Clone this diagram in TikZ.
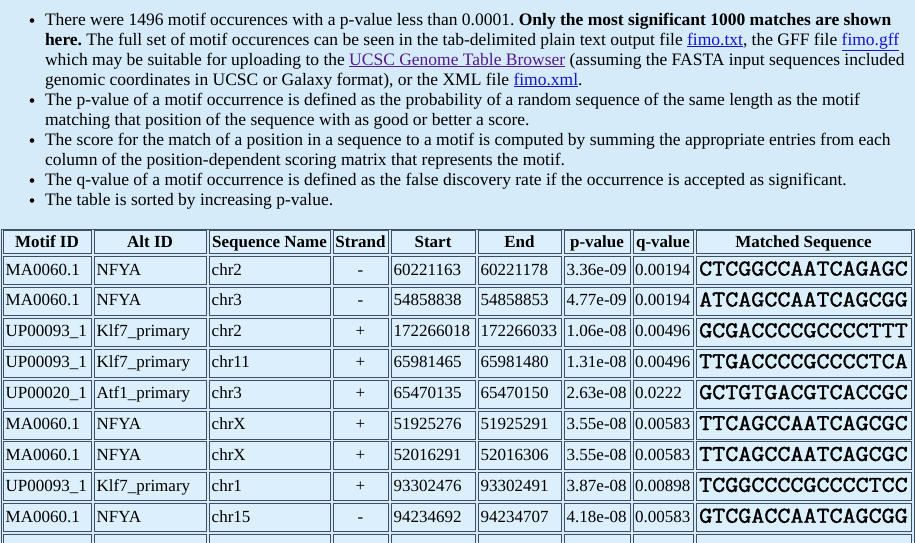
\documentclass[tikz,border=0pt]{standalone}
\usepackage{fontspec}
\setmainfont{Liberation Serif}
\newfontfamily\seqfont[FakeStretch=1.12,FakeBold=1.6]{Latin Modern Mono}
\definecolor{pagebg}{RGB}{213,235,249}
\definecolor{cellbg}{RGB}{220,239,252}
\definecolor{cellline}{RGB}{62,80,98}
\definecolor{linkblue}{RGB}{20,20,200}
\definecolor{linkvisited}{RGB}{85,26,139}
\newcommand\lnk[2]{\textcolor{#1}{\underline{#2}}}
\tikzset{
  txt/.style={anchor=base west,inner sep=0pt,outer sep=0pt,font=\fontsize{17.5}{20}\selectfont\frenchspacing,text=black},
  bul/.style={circle,fill=black,inner sep=0pt,minimum size=4.6pt},
  cell/.style={draw=cellline,fill=cellbg,line width=1pt,anchor=north west,inner sep=0pt,rectangle},
  htxt/.style={anchor=base,inner sep=0pt,font=\fontsize{17}{20}\selectfont\bfseries},
  dtxt/.style={anchor=base west,inner sep=0pt,font=\fontsize{17}{20}\selectfont},
  ctxt/.style={anchor=base,inner sep=0pt,font=\fontsize{17}{20}\selectfont},
  stxt/.style={anchor=base west,inner sep=0pt,font=\seqfont\fontsize{22.6}{24}\selectfont},
  tframe/.style={draw=cellline,line width=1pt,anchor=north west,inner sep=0pt,rectangle}
}
\newcommand\cellrow[3]{% #1 name prefix, #2 top, #3 height
  \foreach \c/\l/\r in {1/3/91,2/94/206,3/209/330,4/333/388,5/391/475,6/478/561,7/564/630,8/633/693,9/696/911}{%
    \pgfmathsetmacro\w{\r-\l}%
    \node[cell,minimum width=\w pt,minimum height=#3pt] (#1-\c) at (\l,#2) {};}%
}
\newcommand\drow[9]{% #1 row index
  \pgfmathsetmacro\rt{256+30.9*(#1-1)}%
  \pgfmathsetmacro\rb{\rt+19}%
  \cellrow{cell-#1}{\rt}{28}%
  \node[dtxt] (m-#1) at (5.5,\rb) {#2};%
  \node[dtxt] (a-#1) at (96.5,\rb) {#3};%
  \node[dtxt] (s-#1) at (211.5,\rb) {#4};%
  \node[ctxt] (d-#1) at (360.5,\rb) {#5};%
  \node[dtxt] (b-#1) at (393.5,\rb) {#6};%
  \node[dtxt] (e-#1) at (480.5,\rb) {#7};%
  \node[dtxt] (p-#1) at (566.5,\rb) {#8};%
  \node[dtxt] (q-#1) at (635,\rb) {#9};%
}
\newcommand\seqtext[2]{%
  \pgfmathsetmacro\rb{256+30.9*(#1-1)+19.5}%
  \node[stxt] (x-#1) at (699,\rb) {#2};%
}
\begin{document}
\begin{tikzpicture}[x=1pt,y=-1pt]
\useasboundingbox (0,0) rectangle (915,542);
\fill[pagebg] (0,0) rectangle (915,542);
\clip (0,0) rectangle (915,542);
% bullets and text
\node[bul] (b1) at (32,20.5) {};
\node[txt] (l1) at (45,25) {There were 1496 motif occurences with a p-value less than 0.0001. \textbf{Only the most significant 1000 matches are shown}};
\node[txt] (l2) at (45,45) {\textbf{here.} The full set of motif occurences can be seen in the tab-delimited plain text output file \lnk{linkblue}{fimo.txt}, the GFF file \lnk{linkblue}{fimo.gff}};
\node[txt] (l3) at (45,65) {which may be suitable for uploading to the \lnk{linkvisited}{UCSC Genome Table Browser} (assuming the FASTA input sequences included};
\node[txt] (l4) at (45,85) {genomic coordinates in UCSC or Galaxy format), or the XML file \lnk{linkblue}{fimo.xml}.};
\node[bul] (b2) at (32,100.5) {};
\node[txt] (l5) at (45,105) {The p-value of a motif occurrence is defined as the probability of a random sequence of the same length as the motif};
\node[txt] (l6) at (45,125) {matching that position of the sequence with as good or better a score.};
\node[bul] (b3) at (32,140.5) {};
\node[txt] (l7) at (45,145) {The score for the match of a position in a sequence to a motif is computed by summing the appropriate entries from each};
\node[txt] (l8) at (45,165) {column of the position-dependent scoring matrix that represents the motif.};
\node[bul] (b4) at (32,180.5) {};
\node[txt] (l9) at (45,185) {The q-value of a motif occurrence is defined as the false discovery rate if the occurrence is accepted as significant.};
\node[bul] (b5) at (32,200.5) {};
\node[txt] (l10) at (45,205) {The table is sorted by increasing p-value.};
% table frame
\node[tframe,minimum width=913pt,minimum height=400pt] (tbl) at (0.5,228.5) {};
% header
\cellrow{h}{230}{23}
\node[htxt] (ht1) at (47,247) {Motif ID};
\node[htxt] (ht2) at (150,247) {Alt ID};
\node[htxt] (ht3) at (269.5,247) {Sequence Name};
\node[htxt] (ht4) at (360.5,247) {Strand};
\node[htxt] (ht5) at (433,247) {Start};
\node[htxt] (ht6) at (519.5,247) {End};
\node[htxt] (ht7) at (597,247) {p-value};
\node[htxt] (ht8) at (663,247) {q-value};
\node[htxt] (ht9) at (803.5,247) {Matched Sequence};
% rows
\drow{1}{MA0060.1}{NFYA}{chr2}{-}{60221163}{60221178}{3.36e-09}{0.00194}
\seqtext{1}{CTCGGCCAATCAGAGC}
\drow{2}{MA0060.1}{NFYA}{chr3}{-}{54858838}{54858853}{4.77e-09}{0.00194}
\seqtext{2}{ATCAGCCAATCAGCGG}
\drow{3}{UP00093\_1}{Klf7\_primary}{chr2}{+}{172266018}{172266033}{1.06e-08}{0.00496}
\seqtext{3}{GCGACCCCGCCCCTTT}
\drow{4}{UP00093\_1}{Klf7\_primary}{chr11}{+}{65981465}{65981480}{1.31e-08}{0.00496}
\seqtext{4}{TTGACCCCGCCCCTCA}
\drow{5}{UP00020\_1}{Atf1\_primary}{chr3}{+}{65470135}{65470150}{2.63e-08}{0.0222}
\seqtext{5}{GCTGTGACGTCACCGC}
\drow{6}{MA0060.1}{NFYA}{chrX}{+}{51925276}{51925291}{3.55e-08}{0.00583}
\seqtext{6}{TTCAGCCAATCAGCGC}
\drow{7}{MA0060.1}{NFYA}{chrX}{+}{52016291}{52016306}{3.55e-08}{0.00583}
\seqtext{7}{TTCAGCCAATCAGCGC}
\drow{8}{UP00093\_1}{Klf7\_primary}{chr1}{+}{93302476}{93302491}{3.87e-08}{0.00898}
\seqtext{8}{TCGGCCCCGCCCCTCC}
\drow{9}{MA0060.1}{NFYA}{chr15}{-}{94234692}{94234707}{4.18e-08}{0.00583}
\seqtext{9}{GTCGACCAATCAGCGG}
\cellrow{cell-10}{534.1}{28}
\end{tikzpicture}
\end{document}
